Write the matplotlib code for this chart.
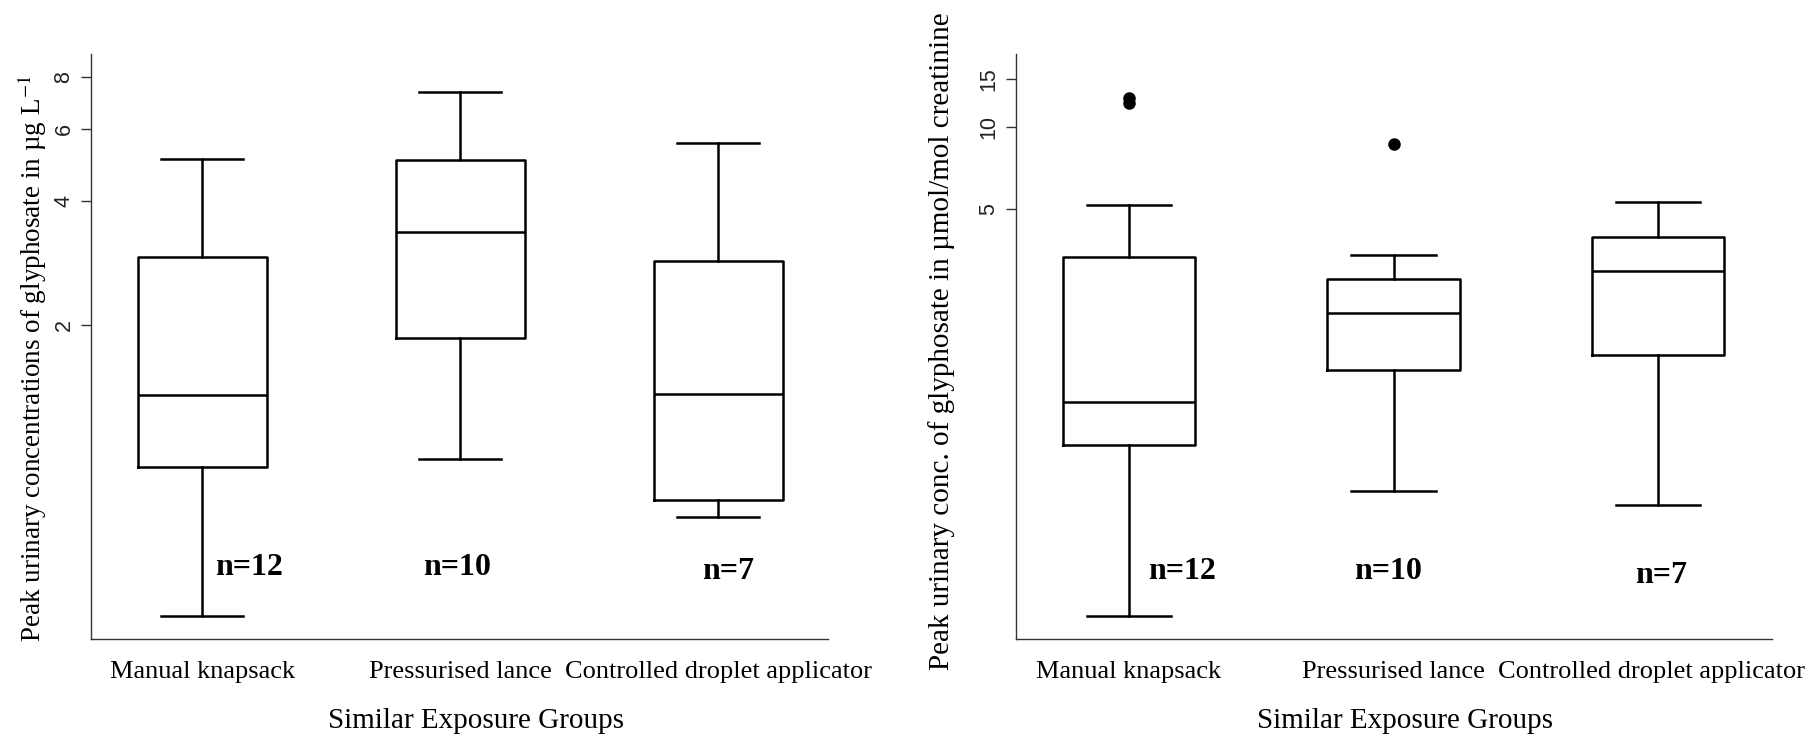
import numpy as np
import matplotlib
matplotlib.use("Agg")
import matplotlib.pyplot as plt
import matplotlib.transforms as mtransforms

plt.rcParams['font.family'] = ['Liberation Serif', 'DejaVu Serif']
plt.rcParams['mathtext.fontset'] = 'stix'

groups = ["Manual knapsack", "Pressurised lance", "Controlled droplet applicator"]
n_labels = ["n=12", "n=10", "n=7"]

# left panel: ug/L
left_whislo = [0.39, 0.94, 0.68]
left_q1 = [0.90, 1.86, 0.75]
left_med = [1.35, 3.36, 1.36]
left_q3 = [2.93, 5.02, 2.86]
left_whishi = [5.05, 7.35, 5.53]
left_fliers = [[], [], []]
left_ticks = [2, 4, 6, 8]

# right panel: umol/mol creatinine
right_whislo = [0.16, 0.46, 0.41]
right_q1 = [0.68, 1.28, 1.45]
right_med = [0.98, 2.07, 2.95]
right_q3 = [3.32, 2.76, 3.95]
right_whishi = [5.18, 3.40, 5.30]
right_fliers = [[12.3, 12.8], [8.67], []]
right_ticks = [5, 10, 15]


def make_stats(lo, q1, med, q3, hi, fl):
    return [dict(whislo=lo[i], q1=q1[i], med=med[i], q3=q3[i], whishi=hi[i],
                 fliers=fl[i], label=groups[i]) for i in range(len(groups))]


fig = plt.figure(figsize=(18.1, 7.37), dpi=100)
ax1 = fig.add_axes([0.0504, 0.1332, 0.4069, 0.7931])
ax2 = fig.add_axes([0.5612, 0.1332, 0.4177, 0.7931])

panels = [
    (ax1, make_stats(left_whislo, left_q1, left_med, left_q3, left_whishi, left_fliers),
     left_ticks, (0.344, 9.1), (0.57, 3.425),
     r"Peak urinary concentrations of glyphosate in µg L$^{-1}$", 19.5, (-0.058, 0.48), 0.522,
     [(1.18, 0.122), (1.99, 0.122), (3.04, 0.116)]),
    (ax2, make_stats(right_whislo, right_q1, right_med, right_q3, right_whishi, right_fliers),
     right_ticks, (0.132, 18.5), (0.572, 3.43),
     "Peak urinary conc. of glyphosate in µmol/mol creatinine", 21, (-0.080, 0.51), 0.515,
     [(1.20, 0.115), (1.98, 0.115), (3.01, 0.109)]),
]

lw = 1.8
for ax, stats, ticks, ylim, xlim, ylabel, ylab_fs, ylab_xy, xlab_x, npos in panels:
    ax.bxp(stats, positions=[1, 2, 3], widths=0.5, capwidths=0.32,
           boxprops=dict(color='black', linewidth=lw),
           medianprops=dict(color='black', linewidth=lw),
           whiskerprops=dict(color='black', linewidth=lw, linestyle='-'),
           capprops=dict(color='black', linewidth=lw),
           flierprops=dict(marker='o', markerfacecolor='black', markeredgecolor='black',
                           markersize=8))
    ax.set_yscale('log')
    ax.set_ylim(*ylim)
    ax.set_xlim(*xlim)
    ax.yaxis.set_minor_locator(matplotlib.ticker.NullLocator())
    ax.set_yticks(ticks)
    ax.set_yticklabels([str(t) for t in ticks], rotation=90, va='center',
                       family=['Liberation Sans', 'DejaVu Sans'], fontsize=15.5, color='#222222')
    ax.tick_params(axis='y', length=7, width=1, color='#333333', pad=5)
    ax.set_xticks([1, 2, 3])
    ax.set_xticklabels(groups, fontsize=19)
    ax.tick_params(axis='x', length=0, pad=16)
    for s in ['top', 'right']:
        ax.spines[s].set_visible(False)
    for s in ['left', 'bottom']:
        ax.spines[s].set_color('#333333')
        ax.spines[s].set_linewidth(1.0)
    ax.set_xlabel("Similar Exposure Groups", fontsize=21)
    ax.xaxis.set_label_coords(xlab_x, -0.118)
    ax.set_ylabel(ylabel, fontsize=ylab_fs)
    ax.yaxis.set_label_coords(*ylab_xy)
    for (x, y), lab in zip(npos, n_labels):
        ax.text(x, y, lab, transform=ax.get_xaxis_transform(), ha='center', va='center',
                fontsize=23, fontweight='bold')

# last category label sits a touch left of its box on the right panel
shift = mtransforms.ScaledTranslation(-7 / 100, 0, fig.dpi_scale_trans)
lab = ax2.get_xticklabels()[2]
lab.set_transform(lab.get_transform() + shift)

fig.savefig("out.png", dpi=100)
